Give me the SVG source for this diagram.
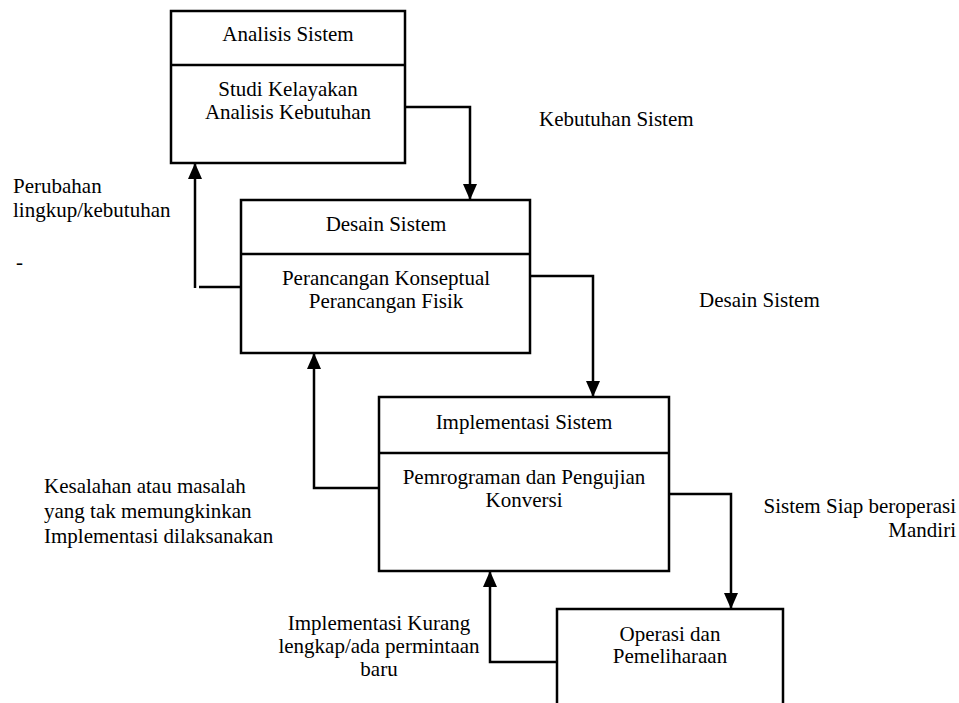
<svg xmlns="http://www.w3.org/2000/svg" width="959" height="703" viewBox="0 0 959 703">
<style>
text{font-family:"Liberation Serif","Times New Roman",serif;font-size:21px;fill:#000}
.c{text-anchor:middle}
.r{text-anchor:end}
.box{fill:#fff;stroke:#000;stroke-width:2.5}
.ln{fill:none;stroke:#000;stroke-width:2.5}
</style>
<defs>
<marker id="ah" markerUnits="userSpaceOnUse" markerWidth="16" markerHeight="14" refX="16" refY="7" orient="auto">
<path d="M0,0 L16,7 L0,14 z" fill="#000"/>
</marker>
</defs>
<rect width="959" height="703" fill="#fff"/>
<g id="connectors">
<path class="ln" d="M405,107 H470 V200" marker-end="url(#ah)"/>
<path class="ln" d="M241,287 H199"/>
<path class="ln" d="M195,288 V163" marker-end="url(#ah)"/>
<path class="ln" d="M530,276 H593 V397" marker-end="url(#ah)"/>
<path class="ln" d="M379,488 H314 V353" marker-end="url(#ah)"/>
<path class="ln" d="M669,494 H731 V609" marker-end="url(#ah)"/>
<path class="ln" d="M557,662 H490 V571" marker-end="url(#ah)"/>
</g>
<g id="analisis">
<rect class="box" x="171" y="11" width="234" height="152"/>
<line class="ln" x1="171" y1="65" x2="405" y2="65"/>
<text class="c" x="288" y="41">Analisis Sistem</text>
<text class="c" x="288" y="96">Studi Kelayakan</text>
<text class="c" x="288" y="119">Analisis Kebutuhan</text>
</g>
<g id="desain">
<rect class="box" x="241" y="200" width="289" height="153"/>
<line class="ln" x1="241" y1="254" x2="530" y2="254"/>
<text class="c" x="386" y="231">Desain Sistem</text>
<text class="c" x="386" y="285">Perancangan Konseptual</text>
<text class="c" x="386" y="308">Perancangan Fisik</text>
</g>
<g id="implementasi">
<rect class="box" x="379" y="397" width="290" height="174"/>
<line class="ln" x1="379" y1="453" x2="669" y2="453"/>
<text class="c" x="524" y="429">Implementasi Sistem</text>
<text class="c" x="524" y="484">Pemrograman dan Pengujian</text>
<text class="c" x="524" y="507">Konversi</text>
</g>
<g id="operasi">
<path class="box" d="M557,706 V609 H783 V706"/>
<text class="c" x="670" y="641">Operasi dan</text>
<text class="c" x="670" y="663">Pemeliharaan</text>
</g>
<g id="labels">
<text x="539" y="126">Kebutuhan Sistem</text>
<text x="699" y="307">Desain Sistem</text>
<text x="13" y="193">Perubahan</text>
<text x="13" y="217">lingkup/kebutuhan</text>
<text x="16" y="269">-</text>
<text x="44" y="493">Kesalahan atau masalah</text>
<text x="44" y="518">yang tak memungkinkan</text>
<text x="44" y="543">Implementasi dilaksanakan</text>
<text class="r" x="956" y="513">Sistem Siap beroperasi</text>
<text class="r" x="956" y="537">Mandiri</text>
<text class="c" x="379" y="630">Implementasi Kurang</text>
<text class="c" x="379" y="653">lengkap/ada permintaan</text>
<text class="c" x="379" y="676">baru</text>
</g>
</svg>
